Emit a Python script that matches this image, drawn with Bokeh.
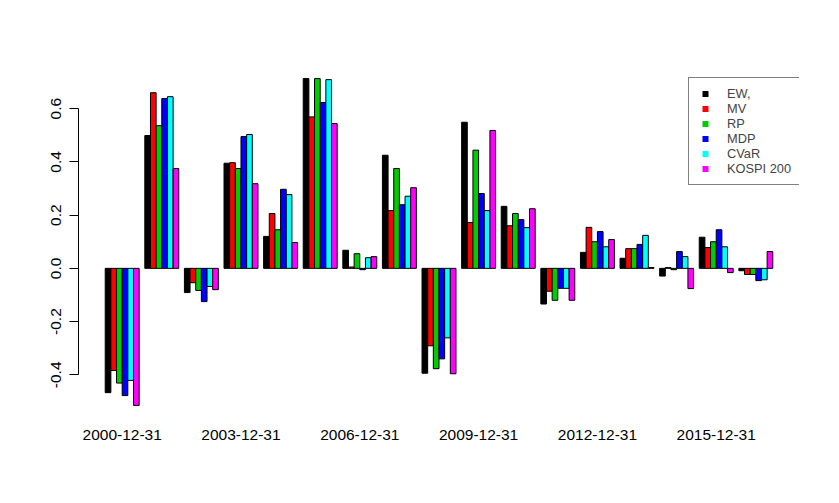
from bokeh.plotting import figure
from bokeh.models import (Range1d, FixedTicker, PrintfTickFormatter, Legend,
                          LegendItem, ColumnDataSource)
from bokeh.embed import file_html
from bokeh.resources import INLINE

dates = ["2000-12-31", "2001-12-31", "2002-12-31", "2003-12-31", "2004-12-31",
         "2005-12-31", "2006-12-31", "2007-12-31", "2008-12-31", "2009-12-31",
         "2010-12-31", "2011-12-31", "2012-12-31", "2013-12-31", "2014-12-31",
         "2015-12-31", "2016-12-31"]

series_names = ["EW,", "MV", "RP", "MDP", "CVaR", "KOSPI 200"]
series_colors = ["#000000", "#FF0000", "#00CD00", "#0000FF", "#00FFFF", "#FF00FF"]

ew = [-0.467, 0.499, -0.091, 0.395, 0.120, 0.713, 0.068, 0.425, -0.394, 0.549,
      0.233, -0.134, 0.060, 0.038, -0.029, 0.117, -0.009]
mv = [-0.384, 0.660, -0.054, 0.397, 0.206, 0.569, 0.005, 0.217, -0.291, 0.172,
      0.160, -0.086, 0.154, 0.074, 0.003, 0.078, -0.023]
rp = [-0.431, 0.536, -0.083, 0.375, 0.145, 0.713, 0.055, 0.375, -0.377, 0.444,
      0.206, -0.120, 0.100, 0.074, -0.005, 0.100, -0.023]
mdp = [-0.478, 0.638, -0.125, 0.495, 0.297, 0.623, -0.005, 0.239, -0.340, 0.281,
       0.183, -0.075, 0.138, 0.090, 0.063, 0.145, -0.046]
cvar = [-0.421, 0.645, -0.068, 0.503, 0.277, 0.709, 0.040, 0.271, -0.261, 0.217,
        0.153, -0.075, 0.081, 0.124, 0.044, 0.081, -0.043]
kospi = [-0.515, 0.375, -0.080, 0.318, 0.097, 0.544, 0.044, 0.303, -0.396, 0.518,
         0.224, -0.120, 0.108, 0.003, -0.076, -0.016, 0.063]

y_ticks = [-0.4, -0.2, 0.0, 0.2, 0.4, 0.6]
label_every = 3

all_series = [ew, mv, rp, mdp, cvar, kospi]
n_groups = len(dates)
n_series = len(all_series)
group_w = n_series + 1  # one bar-width of space before every group

# x / y ranges like R barplot (4% extension)
x_lo, x_hi = 1, group_w * n_groups
x_ext = 0.04 * (x_hi - x_lo)
all_vals = [v for s in all_series for v in s]
y_lo, y_hi = min(all_vals), max(all_vals)
y_ext = 0.04 * (y_hi - y_lo)

p = figure(width=831, height=495, output_backend="svg", toolbar_location=None,
           x_range=Range1d(x_lo - x_ext, x_hi + x_ext),
           y_range=Range1d(y_lo - y_ext, y_hi + y_ext),
           min_border_left=78, min_border_right=32,
           min_border_top=65, min_border_bottom=77)
p.outline_line_color = None
p.xgrid.visible = False
p.ygrid.visible = False
p.background_fill_color = "white"
p.border_fill_color = "white"

legend_items = []
for s, (vals, name, col) in enumerate(zip(all_series, series_names, series_colors)):
    xs = [group_w * g + s + 1.5 for g in range(n_groups)]
    src = ColumnDataSource(dict(x=xs, top=vals))
    p.vbar(x="x", top="top", bottom=0, width=1, source=src,
           fill_color=col, line_color="black", line_width=1)
    # legend-only renderer (not drawn on the plot): gives a small filled square
    lr = p.scatter(x="x", y="top", source=src, marker="square", size=6,
                   fill_color=col, line_color=None, visible=False)
    legend_items.append(LegendItem(label=name, renderers=[lr]))

# x axis: group labels only (R drops overlapping ones)
tick_groups = list(range(0, n_groups, label_every))
tick_pos = [group_w * g + 1 + n_series / 2 for g in tick_groups]
p.xaxis.ticker = FixedTicker(ticks=tick_pos)
p.xaxis.major_label_overrides = {t: dates[g] for t, g in zip(tick_pos, tick_groups)}
p.xaxis.axis_line_color = None
p.xaxis.major_tick_line_color = None
p.xaxis.minor_tick_line_color = None
p.xaxis.major_tick_out = 0
p.xaxis.major_label_standoff = 11
p.xaxis.major_label_text_font = "Liberation Sans"
p.xaxis.major_label_text_font_size = "15.5px"
p.xaxis.major_label_text_color = "black"

# y axis
p.yaxis.ticker = FixedTicker(ticks=y_ticks)
p.yaxis.formatter = PrintfTickFormatter(format="%.1f")
p.yaxis.bounds = (min(y_ticks), max(y_ticks))
p.yaxis.axis_line_color = "black"
p.yaxis.major_tick_line_color = "black"
p.yaxis.minor_tick_line_color = None
p.yaxis.major_tick_in = 0
p.yaxis.major_tick_out = 9
p.yaxis.major_label_orientation = "vertical"
p.yaxis.major_label_standoff = 8
p.yaxis.major_label_text_font = "Liberation Sans"
p.yaxis.major_label_text_font_size = "15.5px"
p.yaxis.major_label_text_color = "black"

legend = Legend(items=legend_items, location=(610, 233), margin=0,
                padding=8, spacing=0, label_standoff=14,
                glyph_width=16, glyph_height=15, label_height=15,
                label_text_font="Liberation Sans", label_text_font_size="12.8px",
                border_line_color="black", border_line_width=1,
                background_fill_color="white", background_fill_alpha=1.0,
                inactive_fill_alpha=0.0)
p.add_layout(legend)

open("out.html", "w").write(file_html(p, INLINE))
